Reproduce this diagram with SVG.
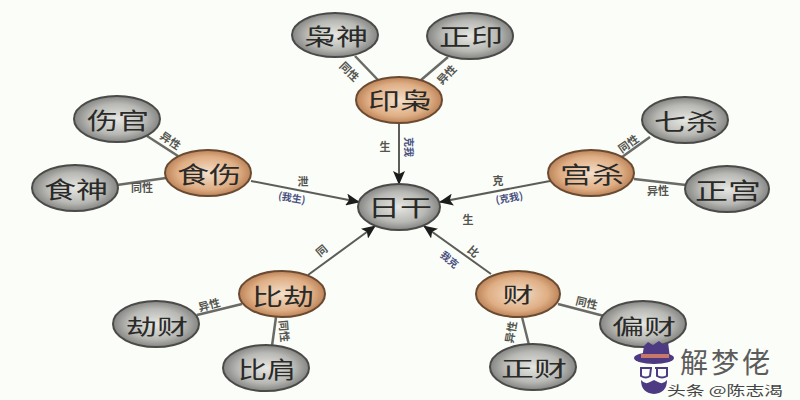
<svg xmlns="http://www.w3.org/2000/svg" width="800" height="400" viewBox="0 0 800 400">
<style>
.g{fill:url(#gray);stroke:#4a4a48;stroke-width:2}
.o{fill:url(#orange);stroke:#6a4a30;stroke-width:2}
text{font-family:"Noto Sans CJK SC","Noto Sans CJK JP",sans-serif;text-anchor:middle;dominant-baseline:central}
.n{font-size:23px;fill:#2a2a28}
.s{font-size:11px;fill:#55554f;font-weight:700}
.b{font-size:10px;fill:#4a5080;font-weight:700}
.l{stroke:#6a6a66;stroke-width:2.5;fill:none}
.a{stroke:#5c5c58;stroke-width:2;fill:none;marker-end:url(#arr)}
</style>
<defs>
<radialGradient id="gray" cx="50%" cy="50%" r="55%"><stop offset="0" stop-color="#e6e7e3"/><stop offset=".6" stop-color="#b8b9b5"/><stop offset="1" stop-color="#767774"/></radialGradient>
<radialGradient id="orange" cx="50%" cy="50%" r="55%"><stop offset="0" stop-color="#f3dfca"/><stop offset=".65" stop-color="#dfae84"/><stop offset="1" stop-color="#b0744a"/></radialGradient>
<marker id="arr" markerUnits="userSpaceOnUse" markerWidth="15" markerHeight="12" refX="13" refY="6" orient="auto"><path d="M0 0L14 6L0 12L3 6Z" fill="#1c1c1c"/></marker>
</defs>
<rect width="800" height="400" fill="#fbfdf9"/>
<g id="connectors">
<path class="l" d="M355 56L378 80"/><path class="l" d="M448 57L421 80"/>
<path class="a" d="M399 123L399 184"/>
<path class="l" d="M147 136L178 156"/><path class="l" d="M117 185L166 178"/>
<path class="a" d="M251 181L359 202"/>
<path class="l" d="M650 137L622 157"/><path class="l" d="M634 179L686 185"/>
<path class="a" d="M550 181L440 202"/>
<path class="a" d="M308 275L375 226"/>
<path class="l" d="M197 315L242 304"/><path class="l" d="M276 317L272 346"/>
<path class="a" d="M491 274L424 226"/>
<path class="l" d="M558 304L604 316"/><path class="l" d="M522 317L529 345"/>
</g>
<g id="labels">
<text class="s" transform="translate(350 71) rotate(45)">同性</text>
<text class="s" transform="translate(446 74) rotate(-45)">异性</text>
<text class="s" x="385" y="146">生</text>
<text class="b" transform="translate(409 147) rotate(90)">克我</text>
<text class="s" x="303" y="181">泄</text>
<text class="b" transform="translate(292 197) rotate(10)">(我生)</text>
<text class="s" x="498" y="180">克</text>
<text class="b" transform="translate(509 197) rotate(-10)">(克我)</text>
<text class="s" x="468" y="219">生</text>
<text class="s" transform="translate(171 140) rotate(35)">异性</text>
<text class="s" x="142" y="187">同性</text>
<text class="s" transform="translate(628 143) rotate(-35)">同性</text>
<text class="s" x="658" y="190">异性</text>
<text class="s" transform="translate(321 250) rotate(-40)">同</text>
<text class="s" transform="translate(209 304) rotate(-14)">异性</text>
<text class="s" transform="translate(285 331) rotate(85)">同性</text>
<text class="s" transform="translate(474 251) rotate(40)">比</text>
<text class="b" transform="translate(450 259) rotate(40)">我克</text>
<text class="s" transform="translate(587 302) rotate(14)">同性</text>
<text class="s" transform="translate(510 332) rotate(-80)">异性</text>
</g>
<g id="xiaoshen"><ellipse class="g" cx="335" cy="35" rx="43" ry="22"/><text class="n" x="336" y="35" textLength="64" lengthAdjust="spacingAndGlyphs">枭神</text></g>
<g id="zhengyin"><ellipse class="g" cx="470" cy="36" rx="43" ry="23"/><text class="n" x="471" y="35" textLength="64" lengthAdjust="spacingAndGlyphs">正印</text></g>
<g id="yinxiao"><ellipse class="o" cx="399" cy="100" rx="43" ry="23"/><text class="n" x="400" y="99" textLength="64" lengthAdjust="spacingAndGlyphs">印枭</text></g>
<g id="rigan"><ellipse class="g" cx="399" cy="207" rx="41" ry="23"/><text class="n" x="400" y="206" textLength="64" lengthAdjust="spacingAndGlyphs">日干</text></g>
<g id="shishang"><ellipse class="o" cx="208" cy="173" rx="43" ry="23"/><text class="n" x="209" y="173" textLength="64" lengthAdjust="spacingAndGlyphs">食伤</text></g>
<g id="shangguan"><ellipse class="g" cx="117" cy="119" rx="43" ry="23"/><text class="n" x="118" y="119" textLength="62" lengthAdjust="spacingAndGlyphs">伤官</text></g>
<g id="shishen"><ellipse class="g" cx="75" cy="188" rx="43" ry="23"/><text class="n" x="76" y="188" textLength="64" lengthAdjust="spacingAndGlyphs">食神</text></g>
<g id="guansha"><ellipse class="o" cx="591" cy="173" rx="43" ry="23"/><text class="n" x="592" y="173" textLength="64" lengthAdjust="spacingAndGlyphs">宫杀</text></g>
<g id="qisha"><ellipse class="g" cx="685" cy="120" rx="43" ry="23"/><text class="n" x="686" y="120" textLength="64" lengthAdjust="spacingAndGlyphs">七杀</text></g>
<g id="zhengguan"><ellipse class="g" cx="727" cy="189" rx="42" ry="23"/><text class="n" x="728" y="189" textLength="66" lengthAdjust="spacingAndGlyphs">正宫</text></g>
<g id="bijie"><ellipse class="o" cx="282" cy="294" rx="43" ry="23"/><text class="n" x="283" y="295" textLength="62" lengthAdjust="spacingAndGlyphs">比劫</text></g>
<g id="jiecai"><ellipse class="g" cx="156" cy="324" rx="43" ry="23"/><text class="n" x="157" y="325" style="font-size:21px" textLength="62" lengthAdjust="spacingAndGlyphs">劫财</text></g>
<g id="bijian"><ellipse class="g" cx="266" cy="368" rx="43" ry="23"/><text class="n" x="267" y="368" textLength="58" lengthAdjust="spacingAndGlyphs">比肩</text></g>
<g id="cai"><ellipse class="o" cx="518" cy="294" rx="42" ry="23"/><text class="n" x="518" y="293" style="font-size:21px" textLength="31" lengthAdjust="spacingAndGlyphs">财</text></g>
<g id="piancai"><ellipse class="g" cx="643" cy="324" rx="43" ry="23"/><text class="n" x="644" y="325" style="font-size:21px" textLength="64" lengthAdjust="spacingAndGlyphs">偏财</text></g>
<g id="zhengcai"><ellipse class="g" cx="533" cy="367" rx="43" ry="23"/><text class="n" x="534" y="367" style="font-size:21px" textLength="66" lengthAdjust="spacingAndGlyphs">正财</text></g>
<g id="watermark">
<path d="M644 346L648 342L653 345L659 341L664 345L668 342L670 358L642 358Z" fill="#4d3a82"/>
<ellipse cx="654" cy="358" rx="20" ry="6" fill="#4d3a82"/>
<rect x="641" y="354" width="28" height="4" fill="#c8786a"/>
<path d="M640 368H652M655 368H668M641 368V376Q646 379 650 376L651 368M657 368V376Q662 379 667 376L667 368" fill="none" stroke="#4d3a82" stroke-width="2"/>
<path d="M641 380Q645 385 650 382L654 380L658 382Q663 385 667 380Q667 393 654 394Q641 393 641 380Z" fill="#4d3a82"/>
<text x="725" y="361" style="font-size:28px;fill:#5c5c5c" textLength="90" lengthAdjust="spacing">解梦佬</text>
<text x="725" y="389" style="font-size:13px;fill:#444" textLength="116" lengthAdjust="spacingAndGlyphs">头条 @陈志渴</text>
</g>
</svg>
